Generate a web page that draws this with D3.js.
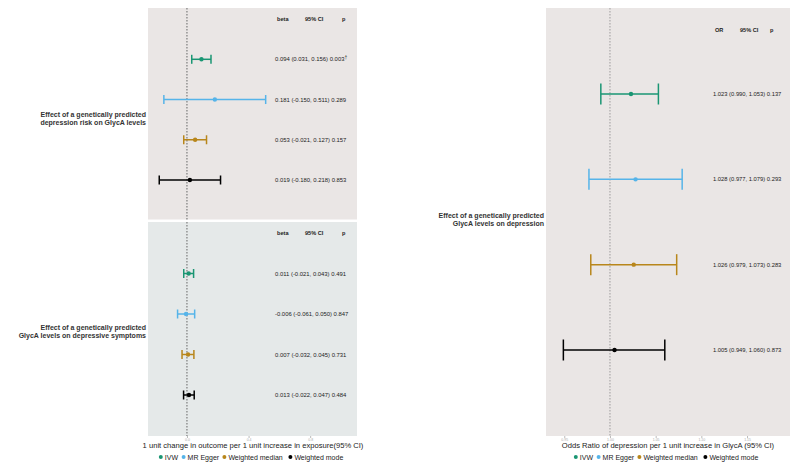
<!DOCTYPE html>
<html>
<head>
<meta charset="utf-8">
<script src="https://cdn.jsdelivr.net/npm/d3@7"></script>
<style>
  body { margin: 0; background: #fff; }
  svg { font-family: "Liberation Sans", Arial, sans-serif; }
</style>
</head>
<body>
<div id="chart"></div>
<script>
const methods = ['IVW', 'MR Egger', 'Weighted median', 'Weighted mode'];
const colors = ['#1a9673', '#56b4e9', '#b8861b', '#000000'];

// depression -> GlycA
const depBeta = [0.094, 0.181, 0.053, 0.019];
const depLo = [0.031, -0.150, -0.021, -0.180];
const depHi = [0.156, 0.511, 0.127, 0.218];
const depP = ['0.003', '0.289', '0.157', '0.853'];

// GlycA -> depressive symptoms
const symBeta = [0.011, -0.006, 0.007, 0.013];
const symLo = [-0.021, -0.061, -0.032, -0.022];
const symHi = [0.043, 0.050, 0.045, 0.047];
const symP = ['0.491', '0.847', '0.731', '0.484'];

// GlycA -> depression (odds ratios)
const orVal = [1.023, 1.028, 1.026, 1.005];
const orLo = [0.990, 0.977, 0.979, 0.949];
const orHi = [1.053, 1.079, 1.073, 1.060];
const orP = ['0.137', '0.293', '0.283', '0.873'];

const leftTicks = [0, 0.4, 0.8];
const rightTicks = [0.95, 1.00, 1.05, 1.10, 1.15];

const svg = d3.select('#chart').append('svg')
  .attr('width', 800)
  .attr('height', 468);

// plain hyphen instead of d3's unicode minus
const f3 = v => d3.format('.3f')(v).replace('\u2212', '-');

const xL = d3.scaleLinear().domain([-0.253, 1.104]).range([148, 357]);
const xR = d3.scaleLinear().domain([0.93, 1.197]).range([546, 790]);

function rows(est, lo, hi, p) {
  return methods.map((m, i) => ({ m, est: est[i], lo: lo[i], hi: hi[i], p: p[i], color: colors[i] }));
}

function drawPanel(opt) {
  const g = svg.append('g');
  const x = opt.x;
  const y = d3.scalePoint().domain(methods).range(opt.rowRange);

  g.append('rect')
    .attr('x', x.range()[0]).attr('y', opt.top)
    .attr('width', x.range()[1] - x.range()[0])
    .attr('height', opt.bottom - opt.top)
    .attr('fill', opt.bg);

  g.append('line')
    .attr('x1', x(opt.ref)).attr('x2', x(opt.ref))
    .attr('y1', opt.top).attr('y2', opt.bottom)
    .attr('stroke', opt.refColor)
    .attr('stroke-width', opt.refWidth)
    .attr('stroke-dasharray', '1.5,1.5');

  const bar = g.selectAll('.bar').data(opt.data).enter().append('g');

  bar.append('line')
    .attr('x1', d => x(d.lo)).attr('x2', d => x(d.hi))
    .attr('y1', d => y(d.m)).attr('y2', d => y(d.m))
    .attr('stroke', d => d.color).attr('stroke-width', opt.sw);
  bar.append('line')
    .attr('x1', d => x(d.lo)).attr('x2', d => x(d.lo))
    .attr('y1', d => y(d.m) - opt.cap).attr('y2', d => y(d.m) + opt.cap)
    .attr('stroke', d => d.color).attr('stroke-width', opt.sw);
  bar.append('line')
    .attr('x1', d => x(d.hi)).attr('x2', d => x(d.hi))
    .attr('y1', d => y(d.m) - opt.cap).attr('y2', d => y(d.m) + opt.cap)
    .attr('stroke', d => d.color).attr('stroke-width', opt.sw);
  bar.append('circle')
    .attr('cx', d => x(d.est)).attr('cy', d => y(d.m))
    .attr('r', 2.2)
    .attr('fill', d => d.color);

  // text columns
  const txt = bar.append('text')
    .attr('x', opt.textX).attr('y', d => y(d.m) + 2)
    .attr('font-size', opt.fs).attr('fill', '#222')
    .text(d => `${f3(d.est)} (${f3(d.lo)}, ${f3(d.hi)}) ${d.p}`);

  if (opt.dagger) {
    txt.filter((d, i) => i === 0)
      .append('tspan')
      .attr('dy', -2.5)
      .attr('font-size', 5)
      .text('†');
  }

  opt.headers.forEach(h => {
    g.append('text')
      .attr('x', h.x).attr('y', opt.headerY + 2)
      .attr('font-size', 5.6).attr('font-weight', 'bold').attr('fill', '#222')
      .text(h.t);
  });

  // group label
  const lab = g.append('text')
    .attr('text-anchor', 'end')
    .attr('font-size', 7).attr('font-weight', 'bold').attr('fill', '#333');
  opt.label.lines.forEach((l, i) => {
    lab.append('tspan')
      .attr('x', opt.label.x)
      .attr('y', opt.label.y + i * 8)
      .text(l);
  });
}

function drawAxis(x, ticks, fmt, title, cx) {
  const axis = d3.axisBottom(x).tickValues(ticks).tickFormat(fmt).tickSize(2).tickPadding(1);
  const ax = svg.append('g')
    .attr('transform', 'translate(0,436)')
    .call(axis);
  ax.select('.domain').remove();
  ax.selectAll('line').attr('stroke', '#bbb');
  ax.selectAll('text').attr('font-size', 3.5).attr('fill', '#aaa');

  svg.append('text')
    .attr('x', cx).attr('y', 448)
    .attr('text-anchor', 'middle')
    .attr('font-size', 7.6).attr('fill', '#222')
    .text(title);

  // legend
  const widths = methods.map(m => m.length * 3.6 + 12);
  const total = d3.sum(widths);
  let pos = cx - total / 2;
  methods.forEach((m, i) => {
    svg.append('circle')
      .attr('cx', pos + 2).attr('cy', 457)
      .attr('r', 2)
      .attr('fill', colors[i]);
    svg.append('text')
      .attr('x', pos + 6).attr('y', 459.5)
      .attr('font-size', 7).attr('fill', '#222')
      .text(m);
    pos += widths[i];
  });
}

drawPanel({
  x: xL, top: 8, bottom: 219.5, bg: '#eae6e5', ref: 0, refColor: '#666', refWidth: 1,
  rowRange: [59.3, 180], data: rows(depBeta, depLo, depHi, depP),
  sw: 1.5, cap: 4.5, textX: 275, fs: 5.9, headerY: 19,
  headers: [{ x: 277, t: 'beta' }, { x: 305, t: '95% CI' }, { x: 342, t: 'p' }],
  dagger: true,
  label: { x: 146, y: 117, lines: ['Effect of a genetically predicted', 'depression risk on GlycA levels'] }
});

drawPanel({
  x: xL, top: 222, bottom: 436, bg: '#e5e9e9', ref: 0, refColor: '#666', refWidth: 1,
  rowRange: [273.5, 395], data: rows(symBeta, symLo, symHi, symP),
  sw: 1.5, cap: 4.5, textX: 275, fs: 5.9, headerY: 233,
  headers: [{ x: 277, t: 'beta' }, { x: 305, t: '95% CI' }, { x: 342, t: 'p' }],
  label: { x: 146, y: 330, lines: ['Effect of a genetically predicted', 'GlycA levels on depressive symptoms'] }
});

drawPanel({
  x: xR, top: 8, bottom: 436, bg: '#eae6e5', ref: 1, refColor: '#888', refWidth: 0.8,
  rowRange: [94, 350], data: rows(orVal, orLo, orHi, orP),
  sw: 1.5, cap: 10.5, textX: 713, fs: 5.8, headerY: 30,
  headers: [{ x: 715, t: 'OR' }, { x: 740, t: '95% CI' }, { x: 770, t: 'p' }],
  label: { x: 544, y: 218, lines: ['Effect of a genetically predicted', 'GlycA levels on depression'] }
});

drawAxis(xL, leftTicks, d3.format('.1f'),
  '1 unit change in outcome per 1 unit increase in exposure(95% CI)', 253);
drawAxis(xR, rightTicks, d3.format('.2f'),
  'Odds Ratio of depression per 1 unit increase in GlycA (95% CI)', 668);
</script>
</body>
</html>
